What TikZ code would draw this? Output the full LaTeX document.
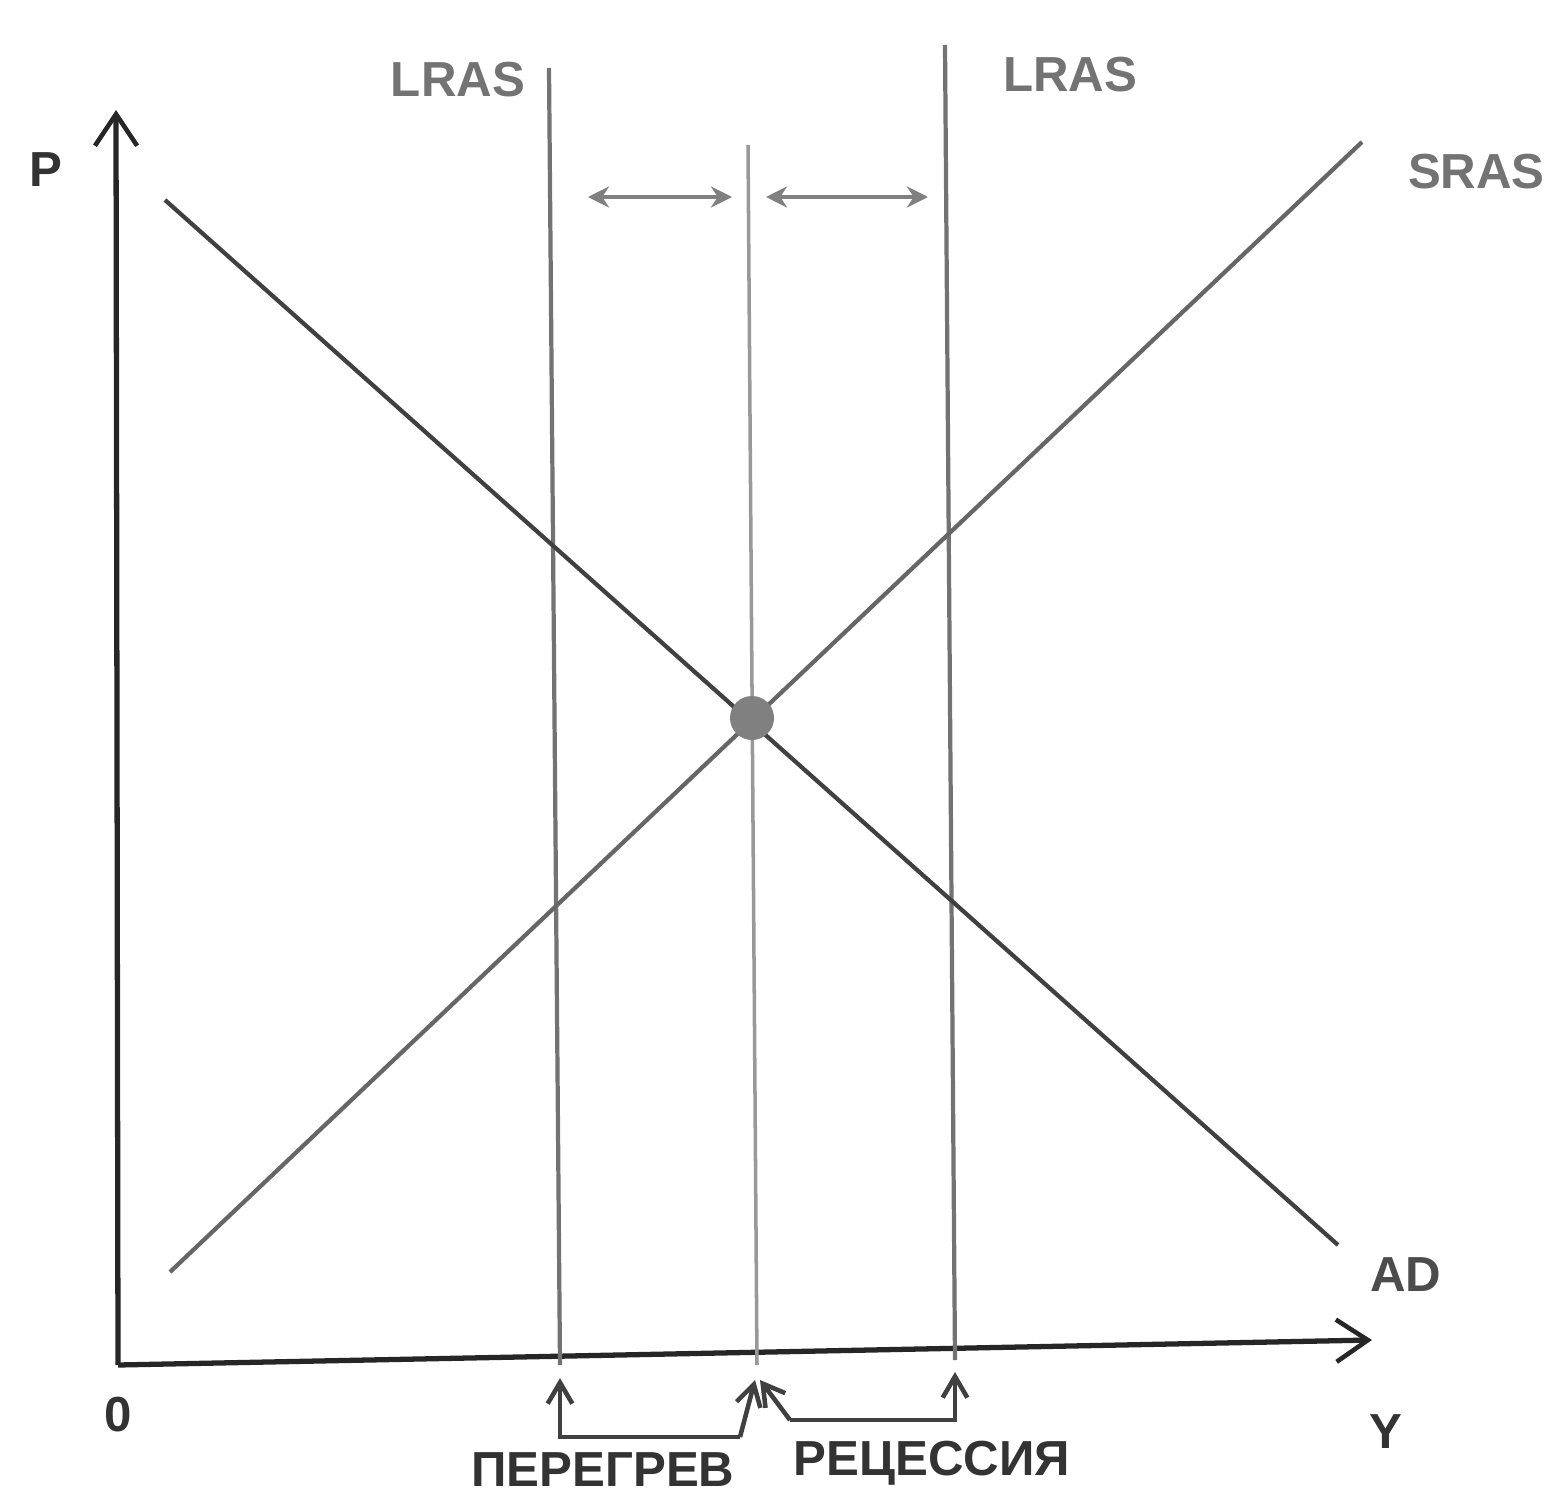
\documentclass[tikz,border=0pt]{standalone}
\usepackage{fontspec}
\setmainfont{Liberation Sans}
\usetikzlibrary{arrows.meta}
\begin{document}
\begin{tikzpicture}[x={(0.01cm,0cm)},y={(0cm,-0.01cm)},
  every node/.style={font=\bfseries\fontsize{14}{16}\selectfont, inner sep=0pt, outer sep=0pt},
  axis/.style={line width=1.5pt, black!85, -{Straight Barb[length=9pt,width=12pt,line width=1.3pt]}},
  curve/.style={line width=1.2pt, black!60},
  lras/.style={line width=1.2pt, black!55},
  shiftarrow/.style={line width=1pt, black!50, {Stealth[length=6pt,width=6pt]}-{Stealth[length=6pt,width=6pt]}},
  gaparrow/.style={line width=1.3pt, black!75, -{Straight Barb[length=6pt,width=7pt]}},
  lbl/.style={black!55}]
\useasboundingbox (0,0) rectangle (1548,1497);

% axes
\coordinate (O) at (118,1365);
\coordinate (Ptop) at (116,110);
\coordinate (Yend) at (1372,1340);
\draw[axis] (O) -- (Ptop);
\draw[axis] (O) -- (Yend);
\node[black!80] (P) at (46,170) {P};
\node[black!80] (zero) at (118,1415) {0};
\node[black!80] (Y) at (1386,1432) {Y};

% long run supply
\draw[lras] (549,68) -- (560,1365);
\draw[lras, black!40, line width=1pt] (748,145) -- (757,1365);
\draw[lras] (945,45) -- (955,1360);
\node[lbl, anchor=east] (lrasA) at (525,80) {LRAS};
\node[lbl, anchor=west] (lrasB) at (1003,75) {LRAS};

% AD and SRAS
\draw[curve, black!75] (165,200) -- (1338,1245);
\draw[curve] (170,1272) -- (1362,142);
\node[lbl, anchor=west] (sras) at (1408,172) {SRAS};
\node[black!70, anchor=west] (ad) at (1370,1275) {AD};
\fill[black!50] (752,718) circle (22);

% shifts
\draw[shiftarrow] (588,197) -- (732,197);
\draw[shiftarrow] (766,197) -- (928,197);

% gaps
\draw[gaparrow] (740,1437) -- (560,1437) -- (560,1378);
\draw[gaparrow] (740,1437) -- (755,1380);
\draw[gaparrow] (790,1420) -- (955,1420) -- (955,1372);
\draw[gaparrow] (790,1420) -- (760,1380);
\node[black!80] (hot) at (603,1470) {ПЕРЕГРЕВ};
\node[black!80] (rec) at (932,1463) {РЕЦЕССИЯ};
\end{tikzpicture}
\end{document}
